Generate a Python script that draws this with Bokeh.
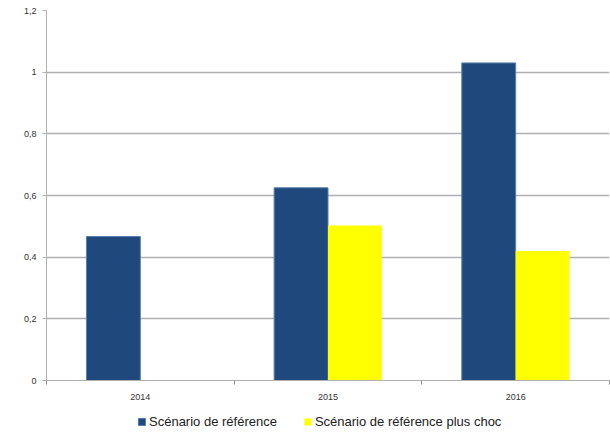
from bokeh.plotting import figure
from bokeh.layouts import column
from bokeh.models import (ColumnDataSource, FixedTicker, CustomJSTickFormatter, Range1d,
                          Legend, LegendItem)
from bokeh.embed import file_html
from bokeh.resources import INLINE
import numpy as np

years = ["2014", "2015", "2016"]
reference = [0.467, 0.625, 1.03]
reference_shock = [float("nan"), 0.503, 0.42]
series_names = ["Scénario de référence", "Scénario de référence plus choc"]
colors = ["#1f497d", "#ffff00"]
outline = ["#5b7fae", None]

idx = np.arange(len(years)) + 0.5
bw = 0.287
src = ColumnDataSource(dict(x1=idx - bw / 2, x2=idx + bw / 2,
                            ref=reference, shock=reference_shock))

p = figure(width=610, height=406, output_backend="svg", toolbar_location=None,
           x_range=Range1d(0, len(years)), y_range=Range1d(0, 1.2),
           min_border_left=46, min_border_right=1, min_border_top=10, min_border_bottom=26)
p.outline_line_color = None
p.background_fill_color = "white"

p.vbar(x="x1", top="ref", width=bw, source=src, fill_color=colors[0], line_color=outline[0])
p.vbar(x="x2", top="shock", width=bw, source=src, fill_color=colors[1], line_color=outline[1])

font = "Liberation Sans"

# y axis
p.yaxis.ticker = FixedTicker(ticks=[0, 0.2, 0.4, 0.6, 0.8, 1.0, 1.2])
p.yaxis.formatter = CustomJSTickFormatter(code="return tick.toFixed(1).replace('.', ',').replace(/,0$/, '');")
p.yaxis.axis_line_color = "#b0b0b0"
p.yaxis.major_tick_line_color = "#b0b0b0"
p.yaxis.major_tick_out = 4
p.yaxis.major_tick_in = 0
p.yaxis.minor_tick_line_color = None
p.yaxis.major_label_text_font = font
p.yaxis.major_label_text_font_size = "9px"
p.yaxis.major_label_text_color = "#333333"
p.yaxis.major_label_standoff = 6

# x axis
p.xaxis.ticker = FixedTicker(ticks=list(idx), minor_ticks=list(range(len(years) + 1)))
p.xaxis.major_label_overrides = {float(v): y for v, y in zip(idx, years)}
p.xaxis.axis_line_color = "#b0b0b0"
p.xaxis.major_tick_line_color = None
p.xaxis.major_tick_out = 0
p.xaxis.major_tick_in = 0
p.xaxis.minor_tick_line_color = "#909090"
p.xaxis.minor_tick_out = 4
p.xaxis.minor_tick_in = 0
p.xaxis.major_label_text_font = font
p.xaxis.major_label_text_font_size = "9px"
p.xaxis.major_label_text_color = "#333333"
p.xaxis.major_label_standoff = 9

p.xgrid.grid_line_color = None
p.ygrid.grid_line_color = "#b0b0b0"
p.ygrid.grid_line_width = 1.5

# legend strip (same series, drawn out of view so only the legend shows)
q = figure(width=610, height=28, output_backend="svg", toolbar_location=None,
           x_axis_location=None, y_axis_location=None,
           x_range=Range1d(0, 1), y_range=Range1d(10, 11), min_border=0)
q.outline_line_color = None
q.grid.visible = False
g1 = q.vbar(x="x1", top="ref", width=bw, source=src, fill_color=colors[0], line_color=outline[0])
g2 = q.vbar(x="x2", top="shock", width=bw, source=src, fill_color=colors[1], line_color=outline[1])
legend = Legend(items=[LegendItem(label=series_names[0], renderers=[g1], index=0),
                       LegendItem(label=series_names[1], renderers=[g2], index=1)],
                orientation="horizontal", location=(91, 5),
                glyph_width=9, glyph_height=9, label_standoff=3, spacing=26,
                label_text_font=font, label_text_font_size="13px",
                label_text_color="#222222",
                border_line_color=None, background_fill_alpha=0,
                padding=0, margin=0)
q.add_layout(legend, "center")

layout = column(p, q, spacing=0)
open("out.html", "w").write(file_html(layout, INLINE))
